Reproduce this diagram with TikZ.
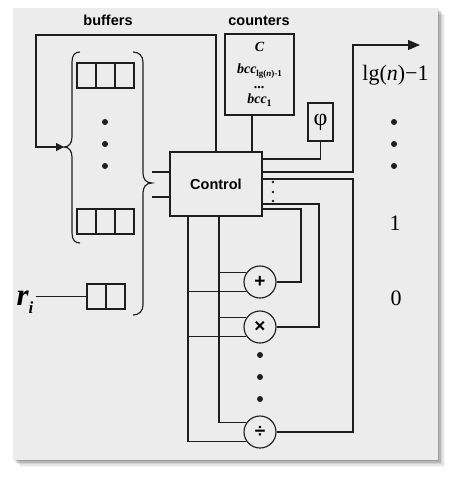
\documentclass[tikz,border=0pt]{standalone}
\usepackage{fontspec}
\setmainfont{Liberation Serif}
\setsansfont{Liberation Sans}
\usetikzlibrary{arrows.meta,calc}
\definecolor{panel}{RGB}{236,236,236}
\definecolor{ink}{RGB}{30,30,30}
\begin{document}
\begin{tikzpicture}[x=1pt,y=-1pt,line width=1.15pt,draw=ink,
  box/.style={draw=ink,line width=1.15pt,inner sep=0pt},
  cell/.style={draw=ink,line width=1.15pt,minimum width=19pt,minimum height=25pt,inner sep=0pt},
  op/.style={draw=ink,line width=1.15pt,circle,minimum size=32pt,inner sep=0pt,font=\sffamily\bfseries\fontsize{19}{19}\selectfont},
  lbl/.style={anchor=base,inner sep=0pt,font=\sffamily\bfseries\fontsize{14.5}{15}\selectfont},
  num/.style={anchor=base,inner sep=0pt,font=\fontsize{22}{22}\selectfont},
  bigdot/.style={circle,fill=ink,inner sep=0pt,minimum size=6pt},
  smalldot/.style={circle,fill=ink,inner sep=0pt,minimum size=2.8pt},
  wire/.style={draw=ink,line width=1.15pt}]
\useasboundingbox (0,0) rectangle (451,477);
\fill[white] (0,0) rectangle (451,477);
% shadow and panel
\foreach \i/\o in {7/0.04,5.5/0.06,4/0.09,2.5/0.12,1/0.15}
  \fill[black,opacity=\o] (13+\i,8+\i) rectangle (438+\i,460+\i);
\fill[panel] (13,8) rectangle (438,460);

% labels
\node[lbl] (lbuf) at (108,25) {buffers};
\node[lbl] (lcnt) at (259,25) {counters};

% control
\node[box,minimum width=92pt,minimum height=64pt,font=\sffamily\bfseries\fontsize{14.5}{15}\selectfont] (ctrl) at (216,184) {Control};

% counters
\node[box,minimum width=69pt,minimum height=81pt,align=center,font=\bfseries\itshape\fontsize{14}{16}\selectfont] (cnt) at (259.5,74.5)
  {C\\[6pt]bcc\raisebox{-3pt}{\upshape\fontsize{9}{9}\selectfont lg(\textit{n})-1}\\[-1pt]...\\[-1pt]bcc\raisebox{-3pt}{\upshape\fontsize{10}{10}\selectfont 1}};

% phi
\node[box,minimum width=25pt,minimum height=38pt,font=\fontsize{24}{24}\selectfont] (phi) at (320.5,122) {φ};

% buffers
\node[cell] (b1a) at (86.5,75.5) {};
\node[cell] (b1b) at (105.5,75.5) {};
\node[cell] (b1c) at (124.5,75.5) {};
\node[cell] (b2a) at (86.5,221.5) {};
\node[cell] (b2b) at (105.5,221.5) {};
\node[cell] (b2c) at (124.5,221.5) {};
\foreach \y in {122,144,166} \node[bigdot] (bd\y) at (105,\y) {};

% r_i register
\node[cell] (r1) at (96.5,296.5) {};
\node[cell] (r2) at (115.5,296.5) {};
\node[anchor=base west,inner sep=0pt,font=\bfseries\itshape\fontsize{31}{31}\selectfont] (ri) at (16,305)
  {r\raisebox{-8pt}{\fontsize{17}{17}\selectfont i}};
\path (ri.east |- r1.west) ++(2,0) coordinate (ris);
\draw[wire] (ris) -- (r1.west);

% braces
\coordinate (lbtip) at (64,147);
\coordinate (rbtip) at (152,183);
\draw[wire] (80,52) .. controls (75,52) and (72,55) .. (72,62) -- (72,137)
  .. controls (72,143) and (69,147) .. (lbtip)
  .. controls (69,147) and (72,151) .. (72,157) -- (72,233)
  .. controls (72,240) and (75,243) .. (80,243);
\draw[wire] (133,52) .. controls (139,52) and (143,56) .. (143,62) -- (143,173)
  .. controls (143,179) and (146,183) .. (rbtip)
  .. controls (146,183) and (143,187) .. (143,193) -- (143,305)
  .. controls (143,311) and (139,315) .. (133,315);

% operators
\node[op] (add) at (260,282) {+};
\node[op] (mul) at (260,327) {×};
\node[op] (div) at (260,432) {÷};
\foreach \y in {355,377,399} \node[bigdot] (od\y) at (260,\y) {};

% output labels
\node[num] (nlg) at (395.5,80) {lg(\textit{n})−1};
\node[num] (none) at (395,230) {1};
\node[num] (nzero) at (396,305) {0};
\foreach \y in {122,144,166} \node[bigdot] (rd\y) at (394,\y) {};
\foreach \y in {182,192,201} \node[smalldot] (sd\y) at (273,\y) {};

% feedback
\coordinate (fbc) at (36,35);
\draw[wire,-{Triangle[length=8pt,width=8pt]}] (ctrl.north) |- (fbc) |- (lbtip);

% brace to control
\draw[wire] (ctrl.west |- 0,172) -- (rbtip |- 0,172);
\draw[wire] (ctrl.west |- 0,197) -- (rbtip |- 0,197);

% counters to control
\path (cnt.south) ++(-7.5,0) coordinate (cs);
\draw[wire] (cs) -- (cs |- ctrl.north);

% phi to control
\draw[wire] (phi.south) |- (ctrl.east |- 0,159);

% output arrow
\coordinate (out) at (420,45);
\draw[wire,-{Triangle[length=12pt,width=10pt]}] (ctrl.east |- 0,172) -| (out -| 353,0) -- (out);

% operator results back to control
\draw[wire] (div.east) -| (353,179) -- (ctrl.east |- 0,179);
\draw[wire] (mul.east) -| (319,204) -- (ctrl.east |- 0,204);
\draw[wire] (add.east) -| (301,209) -- (ctrl.east |- 0,209);

% control to operators
\coordinate (v1) at (ctrl.south -| 188,0);
\coordinate (v2) at (ctrl.south -| 219,0);
\draw[wire] (v1) |- (div.214);
\draw[wire] (v2) |- (div.146);
\draw[wire] (v2 |- add.146) -- (add.146);
\draw[wire] (v1 |- add.214) -- (add.214);
\draw[wire] (v2 |- mul.146) -- (mul.146);
\draw[wire] (v1 |- mul.214) -- (mul.214);
\end{tikzpicture}
\end{document}
